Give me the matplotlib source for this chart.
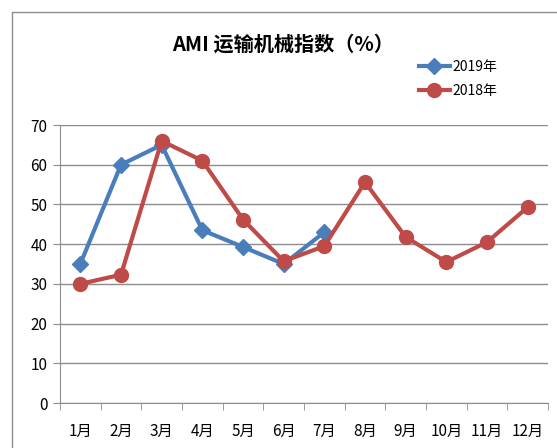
import matplotlib.pyplot as plt
from matplotlib.patches import Rectangle

plt.rcParams['font.family'] = ['Noto Sans CJK SC', 'DejaVu Sans']

months = ['1月', '2月', '3月', '4月', '5月', '6月', '7月', '8月', '9月', '10月', '11月', '12月']
idx_2019 = [35, 60, 65, 43.5, 39.3, 35, 43]
idx_2018 = [30, 32.3, 66, 61, 46.2, 35.7, 39.5, 55.6, 41.8, 35.5, 40.5, 49.3]

blue = '#4a7ebb'
red = '#be4b48'

fig = plt.figure(figsize=(5.57, 4.48), dpi=100)
# outer chart frame
fig.patches.append(Rectangle((12 / 557, -0.1), 1.2, 1 - 12 / 448 + 0.1,
                             transform=fig.transFigure, fill=False,
                             edgecolor='#8c8c8c', lw=1))

ax = fig.add_axes([60 / 557, 45 / 448, 488 / 557, 278 / 448])
x = range(1, 13)
ax.plot(x[:len(idx_2019)], idx_2019, color=blue, lw=3, marker='D', ms=8,
        label='2019年', zorder=3)
ax.plot(x, idx_2018, color=red, lw=3, marker='o', ms=10, label='2018年', zorder=4)

ax.set_xlim(0.5, 12.5)
ax.set_ylim(0, 70)
ax.set_yticks(range(0, 71, 10))
ax.set_xticks(list(x))
ax.set_xticklabels(months, fontsize=11, fontweight='medium')
ax.set_xticks([i + 0.5 for i in range(0, 13)], minor=True)
ax.tick_params(axis='x', which='major', length=0, pad=14)
ax.tick_params(axis='x', which='minor', length=5, color='#8c8c8c')
ax.tick_params(axis='y', length=5, color='#8c8c8c', labelsize=11, pad=4)
ax.grid(axis='y', color='#8c8c8c', lw=1)
for s in ['top', 'right']:
    ax.spines[s].set_visible(False)
for s in ['left', 'bottom']:
    ax.spines[s].set_color('#8c8c8c')

fig.text(283 / 557, 1 - 44 / 448, 'AMI 运输机械指数（%）', ha='center', va='center',
         fontsize=14.5, fontweight='bold')
ax.legend(loc='upper left', bbox_to_anchor=(412 / 557, 1 - 53 / 448),
          bbox_transform=fig.transFigure, frameon=False, fontsize=10,
          handlelength=2.2, handletextpad=0.2, labelspacing=0.7, borderpad=0)

fig.savefig('out.png', dpi=100)
